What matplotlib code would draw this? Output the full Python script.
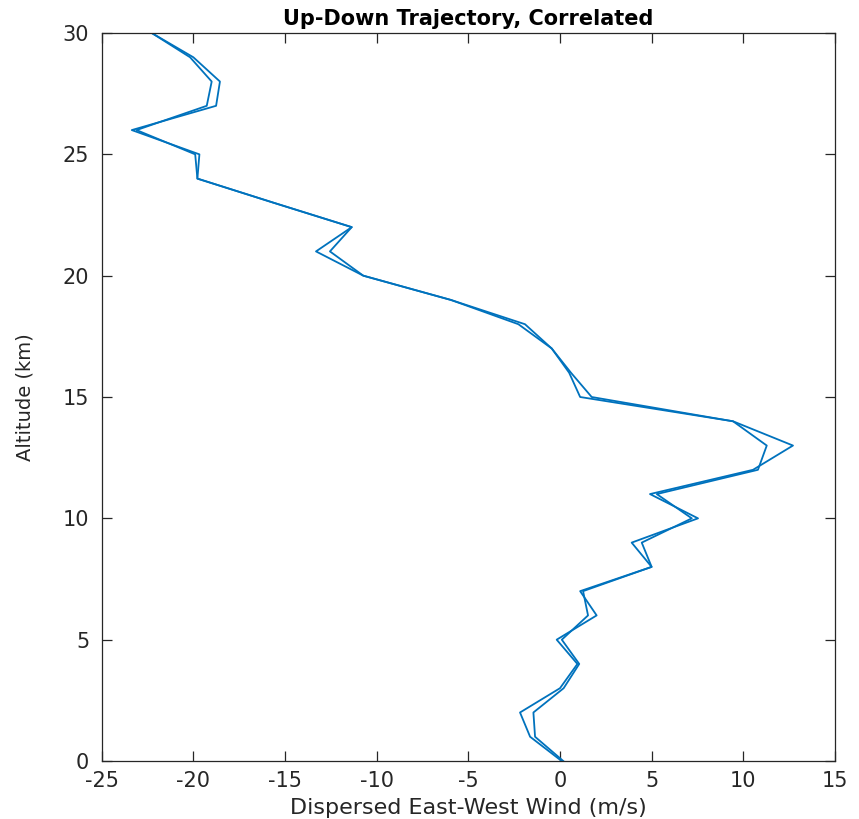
import numpy as np
import matplotlib
matplotlib.use('Agg')
import matplotlib.pyplot as plt

# ── Data ──────────────────────────────────────────────────────────────────────
altitude_km = [0, 1, 2, 3, 4, 5, 6, 7, 8, 9, 10, 11, 12, 13, 14, 15,
               16, 17, 18, 19, 20, 21, 22, 23, 24, 25, 26, 27, 28, 29, 30]

wind_run_a = [0.09, -1.63, -2.18, 0.00, 0.95, -0.18, 2.00, 1.10, 5.00, 3.91,
              7.53, 4.91, 10.53, 12.71, 9.44, 1.10, 0.50, -0.45, -2.27, -5.95,
              -10.73, -13.31, -11.36, -15.6, -19.78, -19.67, -23.36, -18.76, -18.55, -20.00,
              -22.27]

wind_run_b = [0.18, -1.36, -1.45, 0.20, 1.05, 0.10, 1.53, 1.26, 5.00, 4.46,
              7.19, 5.28, 10.80, 11.28, 9.44, 1.73, 0.60, -0.45, -1.91, -5.95,
              -10.73, -12.55, -11.36, -15.6, -19.78, -19.90, -23.10, -19.27, -19.00, -20.18,
              -22.27]

runs = [wind_run_a, wind_run_b]

# ── Style ─────────────────────────────────────────────────────────────────────
LINE_COLOR = '#0072BD'   # MATLAB default blue
AX_COLOR = '#262626'
plt.rcParams['font.family'] = ['DejaVu Sans']
plt.rcParams['axes.unicode_minus'] = False

fig = plt.figure(figsize=(8.59, 8.19), dpi=100)
ax = fig.add_axes([0.1184, 0.0708, 0.8536, 0.8889])

for w in runs:
    ax.plot(w, altitude_km, color=LINE_COLOR, linewidth=1.3)

ax.set_xlim(-25, 15)
ax.set_ylim(0, 30)
ax.set_xticks(np.arange(-25, 16, 5))
ax.set_yticks(np.arange(0, 31, 5))

ax.tick_params(direction='in', top=True, right=True, length=7, width=0.9,
               labelsize=15, colors=AX_COLOR)
ax.tick_params(axis='x', pad=7)
ax.tick_params(axis='y', pad=9)
for s in ax.spines.values():
    s.set_color(AX_COLOR)
    s.set_linewidth(0.9)

ax.set_xlabel('Dispersed East-West Wind (m/s)', fontsize=16, color=AX_COLOR, labelpad=5)
ax.set_ylabel('Altitude (km)', fontsize=14, color=AX_COLOR, labelpad=20)
ax.set_title('Up-Down Trajectory, Correlated', fontsize=15, fontweight='bold',
             color='black', pad=6)

fig.savefig('out.png', dpi=100)
plt.close(fig)
